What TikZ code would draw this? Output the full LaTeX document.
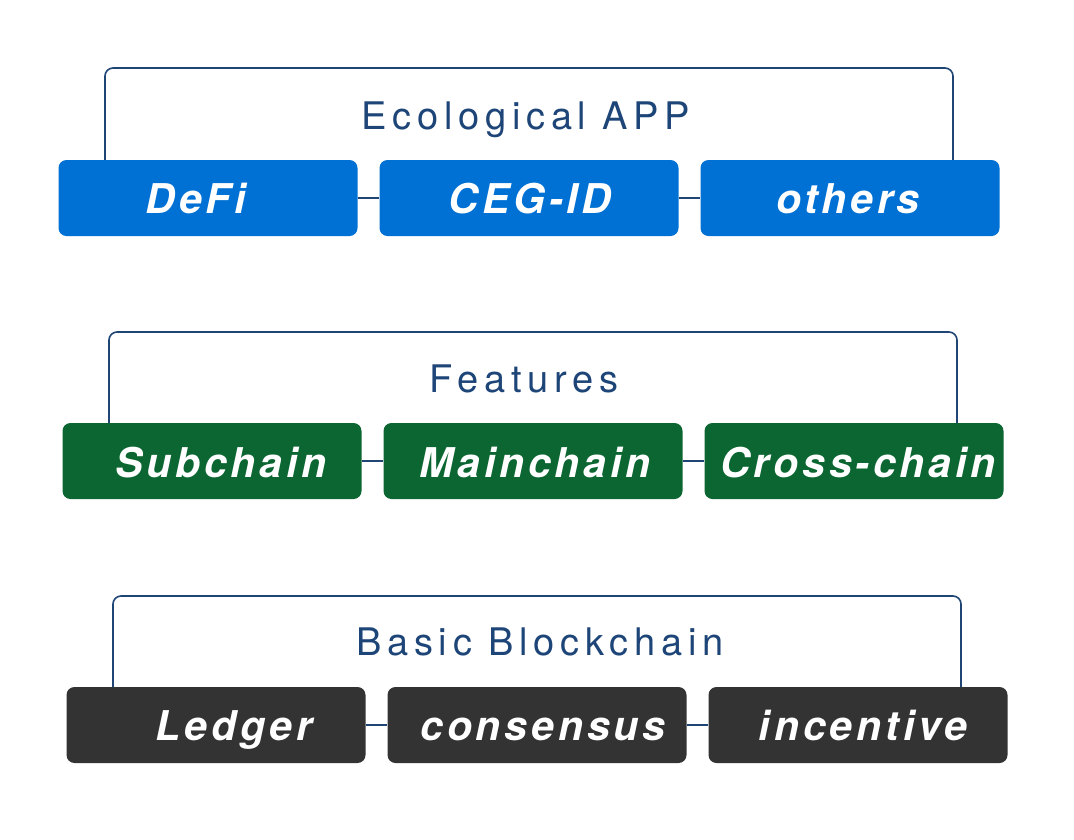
\documentclass[tikz,border=0pt]{standalone}
\usepackage{fontspec}
\setmainfont{TeX Gyre Heros}
\newfontfamily\titlefont[LetterSpace=15]{TeX Gyre Heros}
\newfontfamily\boxfont[LetterSpace=9.5]{TeX Gyre Heros}
\definecolor{lineblue}{HTML}{1F4575}
\definecolor{titleblue}{HTML}{1E4578}
\definecolor{appblue}{HTML}{0071D4}
\definecolor{featgreen}{HTML}{0C6632}
\definecolor{basegray}{HTML}{333333}
\begin{document}
\begin{tikzpicture}[x=1pt,y=-1pt,
  boxstyle/.style={draw=none,rounded corners=8pt,minimum width=299pt,minimum height=76pt,inner sep=0pt},
  boxtext/.style={anchor=base,text=white,font=\boxfont\bfseries\itshape\fontsize{41}{41}\selectfont,inner sep=0pt},
  titletext/.style={anchor=base,text=titleblue,font=\titlefont\fontsize{38}{38}\selectfont,inner sep=0pt},
  bracket/.style={draw=lineblue,line width=1.6pt,rounded corners=8pt},
  link/.style={draw=lineblue,line width=1.6pt}]
\useasboundingbox (0,0) rectangle (1074,839);
\fill[white] (0,0) rectangle (1074,839);

% Row 1
\node[boxstyle,fill=appblue] (defi) at (208,198) {};
\node[boxstyle,fill=appblue] (ceg) at (529,198) {};
\node[boxstyle,fill=appblue] (oth) at (850,198) {};
\coordinate (b1l) at (105,160);
\coordinate (b1r) at (953,160);
\draw[bracket] (b1l) -- (105,68) -- (953,68) -- (b1r);
\draw[link] (defi.east) -- (ceg.west);
\draw[link] (ceg.east) -- (oth.west);
\node[titletext] (t1) at (526,129) {Ecological APP};
\node[boxtext] (defit) at (196,213) {DeFi};
\node[boxtext] (cegt) at (530,213) {CEG-ID};
\node[boxtext] (otht) at (848,213) {others};

% Row 2
\node[boxstyle,fill=featgreen] (sub) at (212,461) {};
\node[boxstyle,fill=featgreen] (main) at (533,461) {};
\node[boxstyle,fill=featgreen] (cross) at (854,461) {};
\coordinate (b2l) at (109,423);
\coordinate (b2r) at (957,423);
\draw[bracket] (b2l) -- (109,332) -- (957,332) -- (b2r);
\draw[link] (sub.east) -- (main.west);
\draw[link] (main.east) -- (cross.west);
\node[titletext] (t2) at (524,392) {Features};
\node[boxtext] (subt) at (221,477) {Subchain};
\node[boxtext] (maint) at (535,477) {Mainchain};
\node[boxtext] (crosst) at (858,477) {Cross-chain};

% Row 3
\node[boxstyle,fill=basegray] (led) at (216,725) {};
\node[boxstyle,fill=basegray] (cons) at (537,725) {};
\node[boxstyle,fill=basegray] (inc) at (858,725) {};
\coordinate (b3l) at (113,687);
\coordinate (b3r) at (961,687);
\draw[bracket] (b3l) -- (113,596) -- (961,596) -- (b3r);
\draw[link] (led.east) -- (cons.west);
\draw[link] (cons.east) -- (inc.west);
\node[titletext] (t3) at (540,655) {Basic Blockchain};
\node[boxtext] (ledt) at (234,740) {Ledger};
\node[boxtext] (const) at (543,740) {consensus};
\node[boxtext] (inct) at (863,740) {incentive};
\end{tikzpicture}
\end{document}
